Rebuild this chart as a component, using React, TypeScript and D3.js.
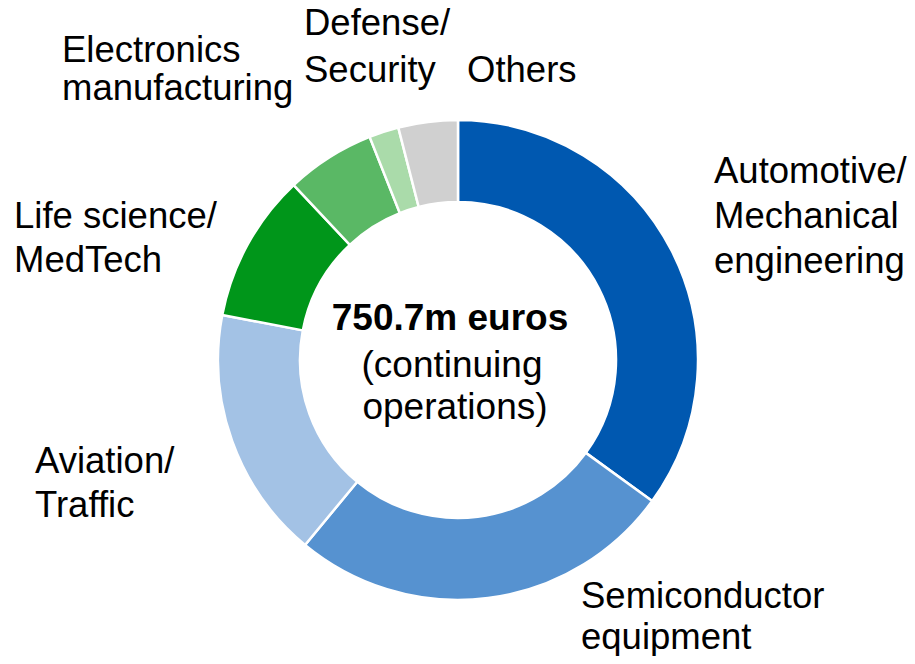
import { useEffect, useRef } from 'react';
import * as d3 from 'd3';

// sales share by sector, in percent
const sectors = [
  'Automotive/Mechanical engineering',
  'Semiconductor equipment',
  'Aviation/Traffic',
  'Life science/MedTech',
  'Electronics manufacturing',
  'Defense/Security',
  'Others',
];
const shares = [35, 26, 17, 10, 6, 2, 4];
const colors = ['#0058b0', '#5692d0', '#a3c2e5', '#00961a', '#5ab865', '#aadbaa', '#d0d0d0'];

// label lines per sector
const labelLines = [
  ['Automotive/', 'Mechanical', 'engineering'],
  ['Semiconductor', 'equipment'],
  ['Aviation/', 'Traffic'],
  ['Life science/', 'MedTech'],
  ['Electronics', 'manufacturing'],
  ['Defense/', 'Security'],
  ['Others'],
];
const centerLines = ['750.7m euros', '(continuing', 'operations)'];

function App() {
  const svgRef = useRef(null);

  useEffect(() => {
    const w = 915;
    const h = 664;
    const cx = 458;
    const cy = 360;
    const outer = 240;
    const inner = 158;

    const svg = d3.select(svgRef.current)
      .attr('width', w)
      .attr('height', h)
      .style('display', 'block')
      .style('font-family', '"Liberation Sans", Arial, sans-serif');
    svg.selectAll('*').remove();

    const data = sectors.map((s, i) => ({ name: s, value: shares[i] }));
    const pie = d3.pie().value(d => d.value).sort(null);
    const arc = d3.arc().innerRadius(inner).outerRadius(outer);

    const g = svg.append('g').attr('transform', `translate(${cx},${cy})`);
    g.selectAll('path').data(pie(data)).join('path')
      .attr('d', arc)
      .attr('fill', (d, i) => colors[i])
      .attr('stroke', '#fff')
      .attr('stroke-width', 2.5)
      .attr('stroke-linejoin', 'miter');

    // label anchors (left x, first baseline, line gap) - placed beside each slice
    const labelPos = [
      [714, 183, 45],
      [581, 608, 41],
      [35, 473, 44],
      [14, 228, 44],
      [62, 62, 38],
      [304, 35, 47],
      [467, 82, 0],
    ];
    labelLines.forEach((lines, i) => {
      const [x, y, gap] = labelPos[i];
      const t = svg.append('text')
        .attr('x', x)
        .attr('y', y)
        .attr('font-size', 36.5)
        .attr('fill', '#000');
      lines.forEach((line, j) => {
        t.append('tspan')
          .attr('x', x)
          .attr('y', y + j * gap)
          .text(line);
      });
    });

    // centre text
    const ct = svg.append('text')
      .attr('text-anchor', 'middle')
      .attr('fill', '#000');
    ct.append('tspan').attr('x', 450).attr('y', 330)
      .attr('font-size', 37).attr('font-weight', 'bold').text(centerLines[0]);
    ct.append('tspan').attr('x', 452).attr('y', 377)
      .attr('font-size', 37).text(centerLines[1]);
    ct.append('tspan').attr('x', 455).attr('y', 419)
      .attr('font-size', 37).text(centerLines[2]);
  }, []);

  return (
    <div style={{ margin: -8 }}>
      <svg ref={svgRef}></svg>
    </div>
  );
}

export default App;
